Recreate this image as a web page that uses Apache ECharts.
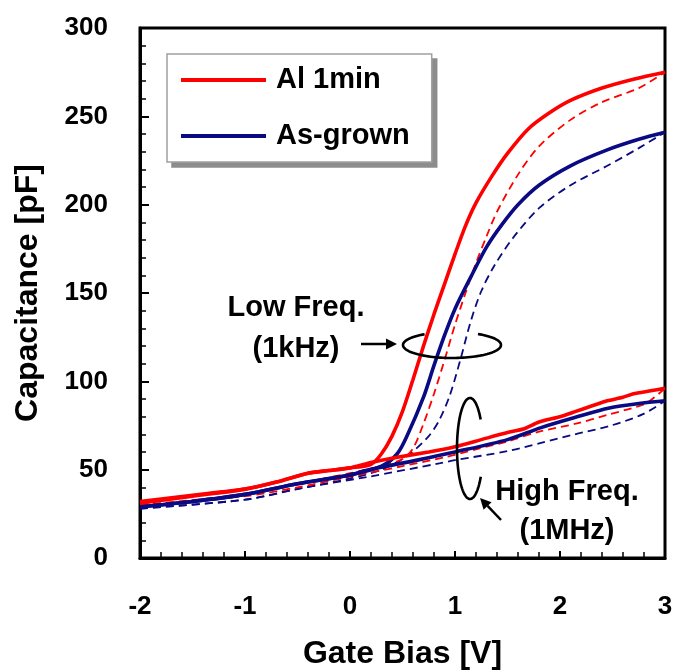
<!DOCTYPE html>
<html>
<head>
<meta charset="utf-8">
<script src="https://cdn.jsdelivr.net/npm/echarts@6/dist/echarts.min.js"></script>
<style>
  html, body { margin: 0; padding: 0; background: #fff; }
  #chart { width: 673px; height: 671px; }
</style>
</head>
<body>
<div id="chart"></div>
<script>
// C-V sweeps: gate bias [V] and capacitance [pF]
// Al 1min, 1 kHz
const alLfFwdV = [-2, -1.5, -1, -0.7, -0.4, -0.2, 0, 0.2, 0.3, 0.4, 0.5, 0.6, 0.7, 0.8, 0.9, 1.0, 1.1, 1.2, 1.35, 1.5, 1.7, 1.9, 2.1, 2.4, 2.7, 3];
const alLfFwdC = [31, 35, 39, 43, 48, 49.5, 51, 53, 59, 69, 83, 101, 120, 138, 155, 172, 188, 201, 216, 229, 243, 252, 259, 266, 271, 275];
const alLfRevV = [-2, -1, -0.5, 0, 0.3, 0.5, 0.6, 0.7, 0.8, 0.9, 1.0, 1.1, 1.2, 1.3, 1.4, 1.6, 1.8, 2.1, 2.4, 2.75, 3];
const alLfRevC = [30, 36, 42, 48, 52, 56, 62, 76, 93, 112, 132, 150, 167, 182, 196, 217, 233, 248, 258, 266, 275];
// Al 1min, 1 MHz
const alHfFwdV = [-2, -1.5, -1, -0.7, -0.4, -0.2, 0, 0.2, 0.45, 0.75, 1.0, 1.25, 1.5, 1.65, 1.8, 2.0, 2.15, 2.3, 2.45, 2.6, 2.7, 2.85, 3];
const alHfFwdC = [32, 35.5, 39, 43, 48, 49.5, 51, 54, 57, 60, 63, 67, 71, 73, 77, 80, 83, 86, 89, 91, 93, 94.5, 96];
const alHfRevV = [-2, -1, -0.5, 0, 0.5, 0.9, 1.2, 1.5, 1.8, 2.15, 2.45, 2.8, 2.9, 3];
const alHfRevC = [30, 35, 40, 46, 52, 57, 61.5, 66, 71.5, 76, 81, 87, 91, 96];
// As-grown, 1 kHz
const agLfFwdV = [-2, -1.5, -1, -0.5, 0, 0.3, 0.45, 0.55, 0.7, 0.8, 0.9, 1.0, 1.15, 1.3, 1.45, 1.6, 1.8, 2.1, 2.45, 2.75, 3];
const agLfFwdC = [29, 32, 36, 42, 47, 52, 59, 70, 91, 109, 126, 141, 159, 176, 189, 200, 211, 222, 231, 237, 241];
const agLfRevV = [-2, -1, -0.5, 0, 0.3, 0.55, 0.75, 0.85, 0.95, 1.05, 1.15, 1.25, 1.37, 1.55, 1.8, 2.1, 2.45, 2.75, 3];
const agLfRevC = [28, 33, 39, 45, 50, 58, 69, 78, 92, 112, 134, 151, 165, 181, 198, 211, 222, 232, 241];
// As-grown, 1 MHz
const agHfFwdV = [-2, -1.5, -1, -0.5, 0, 0.16, 0.64, 1.0, 1.5, 1.82, 2.14, 2.47, 2.79, 3];
const agHfFwdC = [29, 32, 36, 42, 47, 49.7, 55.4, 60, 67, 73.8, 79.5, 84.9, 87.7, 89];
const agHfRevV = [-2, -1, -0.48, 0.16, 0.86, 1.0, 1.5, 1.82, 2.14, 2.47, 2.79, 3];
const agHfRevC = [28, 33, 39.4, 45.8, 53.7, 55.4, 60.5, 65.2, 70, 74.7, 81.4, 89];

const xTicks = [-2, -1, 0, 1, 2, 3];
const yTicks = [0, 50, 100, 150, 200, 250, 300];

const RED = '#ff0000';
const NAVY = '#0a0a82';
const FONT = '"Liberation Sans", Arial, Helvetica, sans-serif';

function pairs(xs, ys) { return xs.map((x, i) => [x, ys[i]]); }

function curve(name, xs, ys, color, dashed, smooth) {
  return {
    name: name,
    type: 'line',
    data: pairs(xs, ys),
    symbol: 'none',
    smooth: smooth,
    silent: true,
    z: dashed ? 3 : 4,
    lineStyle: dashed
      ? { color: color, width: 1.8, type: [8, 5] }
      : { color: color, width: 3.6 },
    itemStyle: { color: color }
  };
}

// Arrow made of a shaft and a filled head
function arrow(x1, y1, x2, y2) {
  const dx = x2 - x1, dy = y2 - y1, len = Math.hypot(dx, dy);
  const ux = dx / len, uy = dy / len, hl = 11, hw = 5.5;
  const bx = x2 - ux * hl, by = y2 - uy * hl;
  return [
    { type: 'line', shape: { x1: x1, y1: y1, x2: bx, y2: by }, style: { stroke: '#000', lineWidth: 2.5 }, z: 20 },
    { type: 'polygon', shape: { points: [[x2, y2], [bx - uy * hw, by + ux * hw], [bx + uy * hw, by - ux * hw]] }, style: { fill: '#000' }, z: 20 }
  ];
}

// Open elliptical ring drawn between two angles (degrees, screen orientation)
function ring(cx, cy, rx, ry, a0, a1) {
  const pts = [];
  for (let a = a0; a <= a1; a += 3) {
    const t = a * Math.PI / 180;
    pts.push([cx + rx * Math.cos(t), cy + ry * Math.sin(t)]);
  }
  return { type: 'polyline', shape: { points: pts }, style: { stroke: '#000', lineWidth: 2.6, fill: null }, z: 20 };
}

function label(text, x, y) {
  return {
    type: 'text', x: x, y: y, z: 21,
    style: { text: text, font: 'bold 29px ' + FONT, fill: '#000', align: 'center', verticalAlign: 'middle' }
  };
}

const chart = echarts.init(document.getElementById('chart'), null, { renderer: 'canvas' });

chart.setOption({
  animation: false,
  backgroundColor: '#fff',
  grid: {
    left: 140, right: 8, top: 28, bottom: 113,
    outerBoundsMode: 'none', containLabel: false,
    show: true, borderColor: '#000', borderWidth: 3, backgroundColor: 'transparent'
  },
  legend: {
    data: ['Al 1min', 'As-grown'],
    left: 167, top: 54,
    orient: 'vertical',
    icon: 'rect',
    itemWidth: 85, itemHeight: 4, itemGap: 24,
    padding: [10, 22, 10, 14],
    backgroundColor: '#fff',
    borderColor: '#a0a0a0', borderWidth: 1.5,
    selectedMode: false,
    z: 10,
    textStyle: { fontFamily: FONT, fontSize: 29, fontWeight: 'bold', color: '#000', lineHeight: 32, padding: [0, 0, 0, 5] }
  },
  xAxis: {
    type: 'value', min: xTicks[0], max: xTicks[xTicks.length - 1], interval: 1,
    name: 'Gate Bias [V]', nameLocation: 'middle', nameGap: 80,
    nameTextStyle: { fontFamily: FONT, fontSize: 32, fontWeight: 'bold', color: '#000', verticalAlign: 'top' },
    axisLine: { show: true, onZero: false, lineStyle: { color: '#000', width: 3 } },
    axisTick: { show: true, inside: true, length: 7, lineStyle: { color: '#000', width: 2 } },
    minorTick: { show: true, splitNumber: 5, length: 6, lineStyle: { color: '#000', width: 1.5 } },
    splitLine: { show: false },
    axisLabel: { fontFamily: FONT, fontSize: 26, fontWeight: 'bold', color: '#000', margin: 36 }
  },
  yAxis: {
    type: 'value', min: yTicks[0], max: yTicks[yTicks.length - 1], interval: 50,
    name: 'Capacitance [pF]', nameLocation: 'middle', nameGap: 96, nameRotate: 90,
    nameTextStyle: { fontFamily: FONT, fontSize: 32, fontWeight: 'bold', color: '#000' },
    axisLine: { show: true, onZero: false, lineStyle: { color: '#000', width: 3 } },
    axisTick: { show: true, inside: true, length: 9, lineStyle: { color: '#000', width: 2 } },
    minorTick: { show: true, splitNumber: 5, length: 6, lineStyle: { color: '#000', width: 1.5 } },
    splitLine: { show: false },
    axisLabel: { fontFamily: FONT, fontSize: 26, fontWeight: 'bold', color: '#000', margin: 32 }
  },
  series: [
    curve('As-grown HF rev', agHfRevV, agHfRevC, NAVY, true, 0.3),
    curve('As-grown LF rev', agLfRevV, agLfRevC, NAVY, true, 0.3),
    curve('Al HF rev', alHfRevV, alHfRevC, RED, true, 0.3),
    curve('Al LF rev', alLfRevV, alLfRevC, RED, true, 0.3),
    curve('As-grown HF', agHfFwdV, agHfFwdC, NAVY, false, 0.3),
    curve('As-grown', agLfFwdV, agLfFwdC, NAVY, false, 0.3),
    curve('Al HF', alHfFwdV, alHfFwdC, RED, false, 0.2),
    curve('Al 1min', alLfFwdV, alLfFwdC, RED, false, 0.3)
  ],
  graphic: [
    label('Low Freq.', 296, 308),
    label('(1kHz)', 296, 349),
    ...arrow(361, 344, 397, 344),
    ring(452, 345, 49, 13, -58, 238),
    label('High Freq.', 567, 492),
    label('(1MHz)', 567, 531),
    ...arrow(501, 520, 480, 498),
    ring(470, 448.5, 13, 50.5, 34, 327)
  ]
});

// Drop shadow under the legend box, sized from the laid-out legend
const legendView = chart.getViewOfComponentModel(chart.getModel().getComponent('legend'));
const lb = legendView.group.getBoundingRect();
const lx = legendView.group.x, ly = legendView.group.y;
chart.setOption({
  graphic: [{
    id: 'legendShadow', type: 'rect', z: 1, silent: true,
    shape: { x: lx + lb.x + 5, y: ly + lb.y + 5, width: lb.width, height: lb.height },
    style: { fill: '#8c8c8c' }
  }]
});
</script>
</body>
</html>
